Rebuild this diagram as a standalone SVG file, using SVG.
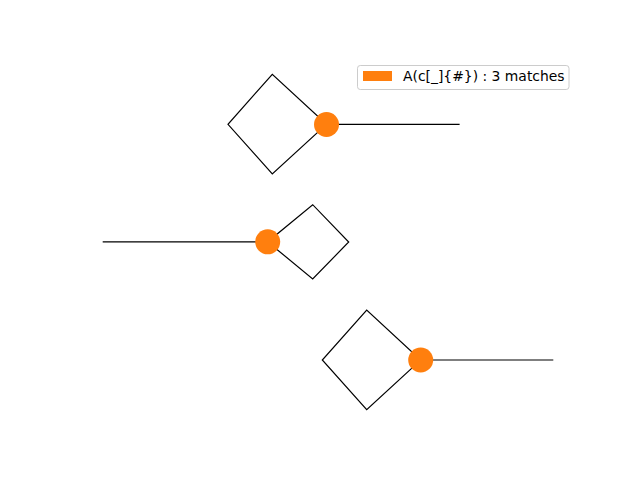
<svg xmlns="http://www.w3.org/2000/svg" width="640" height="480" viewBox="0 0 640 480">
<style>
.bond{stroke:#000;stroke-width:1.2;fill:none;stroke-linecap:square;stroke-linejoin:miter}
.atom{fill:#ff7f0e}
.legend-box{fill:#fff;fill-opacity:0.8;stroke:#cccccc;stroke-width:1}
.legend-text{font-family:"DejaVu Sans",sans-serif;font-size:13.9px;fill:#000}
</style>
<rect width="640" height="480" fill="#fff"/>
<g id="connectors">
<polyline class="bond" points="326.5,124.3 272.3,74.3 228,124.3 272.3,174 326.5,124.3"/>
<line class="bond" x1="326.5" y1="124.3" x2="459" y2="124.3"/>
<polyline class="bond" points="267.7,241.8 312.7,204.7 348.7,242 312.7,279 267.7,241.8"/>
<line class="bond" x1="103.3" y1="241.8" x2="267.7" y2="241.8"/>
<polyline class="bond" points="420.7,360 366.7,310 322.3,360 366.7,409.7 420.7,360"/>
<line class="bond" x1="420.7" y1="360" x2="552.7" y2="360"/>
</g>
<g id="match-1"><circle class="atom" cx="326.5" cy="124.5" r="12.5"/></g>
<g id="match-2"><circle class="atom" cx="267.7" cy="241.8" r="12.5"/></g>
<g id="match-3"><circle class="atom" cx="420.7" cy="360" r="12.5"/></g>
<g id="legend">
<rect class="legend-box" x="357.5" y="65.5" width="211.5" height="24" rx="2.8"/>
<rect x="363" y="71" width="29" height="10" fill="#ff7f0e"/>
<text class="legend-text" x="403" y="81">A(c[_]{#}) : 3 matches</text>
</g>
</svg>
